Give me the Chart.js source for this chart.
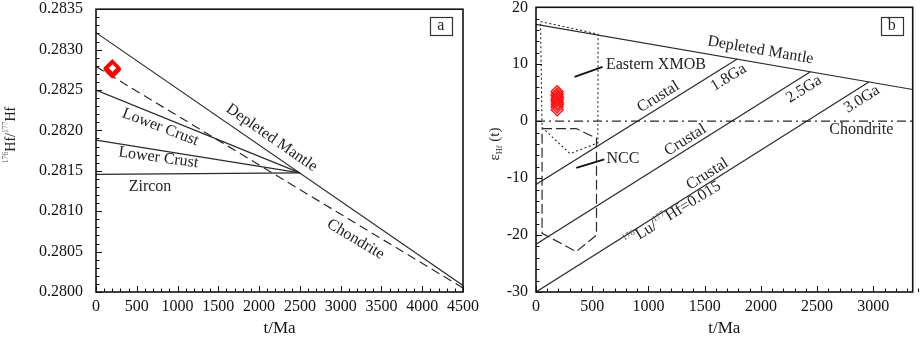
<!DOCTYPE html>
<html><head><meta charset="utf-8">
<script src="https://cdn.jsdelivr.net/npm/chart.js@4.4.0/dist/chart.umd.min.js"></script>
<style>
html,body{margin:0;padding:0;background:#fff;width:920px;height:337px;overflow:hidden;}
#ca{position:absolute;left:0;top:0;}
#cb{position:absolute;left:475px;top:0;}
</style></head><body>
<canvas id="ca" width="485" height="337"></canvas>
<canvas id="cb" width="445" height="337"></canvas>
<script>
// ---------- Panel a data ----------
const aAgeTicks = [0,500,1000,1500,2000,2500,3000,3500,4000,4500];
const aHfTicks = [0.2800,0.2805,0.2810,0.2815,0.2820,0.2825,0.2830,0.2835];
const aDmAge = [0, 4500];
const aDmHf = [0.28321, 0.28008];
const aChurAge = [0, 4500];
const aChurHf = [0.28279, 0.28005];
const aLc1Age = [0, 2500];
const aLc1Hf = [0.28250, 0.281475];
const aLc2Age = [0, 2500];
const aLc2Hf = [0.28188, 0.281475];
const aZirAge = [0, 2500];
const aZirHf = [0.281455, 0.281475];
const aSampleAge = [190, 195, 200, 205, 210, 198, 203];
const aSampleHf = [0.28276, 0.28277, 0.28278, 0.28276, 0.28275, 0.28274, 0.28277];

// ---------- Panel b data ----------
const bAgeTicks = [0,500,1000,1500,2000,2500,3000];
const bEpsTicks = [-30,-20,-10,0,10,20];
const bDmAge = [0, 3350];
const bDmEps = [17.0, 5.56];
const bChurAge = [0, 3350];
const bChurEps = [0, 0];
const bC18Age = [0, 1790];
const bC18Eps = [-11.1, 10.9];
const bC25Age = [0, 2440];
const bC25Eps = [-21.6, 8.7];
const bC30Age = [0, 2960];
const bC30Eps = [-30, 6.9];
const bXmobAge = [40, 552, 550, 303, 54, 40];
const bXmobEps = [17.5, 15.3, -3.8, -5.7, -1.1, 17.5];
const bNccAge = [54, 358, 538, 538, 358, 54, 54];
const bNccEps = [-1.3, -1.3, -3.0, -20.0, -22.9, -19.7, -1.3];
const bXmobLeaderAge = [343, 592];
const bXmobLeaderEps = [7.77, 9.53];
const bNccLeaderAge = [358, 607];
const bNccLeaderEps = [-8.19, -6.72];
const bSampleAge = [188, 190, 186, 192, 189, 187, 191, 190, 188, 189];
const bSampleEps = [5.2, 4.8, 4.5, 4.2, 3.9, 3.6, 3.2, 2.9, 2.5, 2.0];

const FONT = "'Liberation Serif','Times New Roman',serif";
const INK = '#222';
const pts = (xs, ys) => xs.map((x, i) => ({x, y: ys[i]}));
const lineDs = (xs, ys, extra) => Object.assign({
  data: pts(xs, ys), showLine: true, pointRadius: 0, borderColor: '#2a2a2a',
  borderWidth: 1.2, fill: false, order: 2
}, extra || {});

function drawRich(ctx, segs, x, y, rot, align, size) {
  ctx.save();
  ctx.translate(x, y);
  ctx.rotate(rot * Math.PI / 180);
  let total = 0;
  const parts = segs.map(s => {
    const fs = s.s ? size * 0.55 : size;
    ctx.font = fs + 'px ' + FONT;
    const w = ctx.measureText(s.t).width;
    total += w;
    return Object.assign({fs, w}, s);
  });
  let cx = align === 'left' ? 0 : -total / 2;
  ctx.textBaseline = 'middle';
  ctx.textAlign = 'left';
  for (const p of parts) {
    ctx.font = p.fs + 'px ' + FONT;
    ctx.fillStyle = p.s === 'sup' ? '#555' : INK;
    const dy = p.s === 'sup' ? -size * 0.33 : (p.s === 'sub' ? size * 0.28 : 0);
    ctx.fillText(p.t, cx, dy);
    cx += p.w;
  }
  ctx.restore();
  return total;
}

const framePlugin = {
  id: 'frameTicks',
  afterDraw(chart, args, o) {
    const {ctx, chartArea: a} = chart;
    const x = chart.scales.x, y = chart.scales.y;
    ctx.save();
    ctx.strokeStyle = '#111';
    ctx.lineWidth = 1;
    const nx = Math.round((x.max - x.min) / o.xMinor);
    for (let i = 0; i <= nx; i++) {
      const v = x.min + i * o.xMinor;
      const px = Math.round(x.getPixelForValue(v)) + 0.5;
      const len = (i % o.xEvery === 0) ? 6 : 3.5;
      ctx.beginPath(); ctx.moveTo(px, a.bottom); ctx.lineTo(px, a.bottom - len); ctx.stroke();
    }
    const ny = Math.round((y.max - y.min) / o.yMinor);
    for (let i = 0; i <= ny; i++) {
      const v = y.min + i * o.yMinor;
      const py = Math.round(y.getPixelForValue(v)) + 0.5;
      const len = (i % o.yEvery === 0) ? 6 : 3.5;
      ctx.beginPath(); ctx.moveTo(a.left, py); ctx.lineTo(a.left + len, py); ctx.stroke();
    }
    ctx.lineWidth = 1.6;
    ctx.strokeRect(a.left, a.top, a.right - a.left, a.bottom - a.top);
    // y title
    ctx.fillStyle = INK;
    drawRich(ctx, o.yTitle, o.yTitleX, o.yTitleY, -90, 'center', o.yTitleSize);
    ctx.restore();
  }
};

const labelPlugin = {
  id: 'labels',
  afterDatasetsDraw(chart, args, o) {
    const {ctx} = chart;
    const x = chart.scales.x, y = chart.scales.y;
    ctx.save();
    for (const it of o.items) {
      const px = x.getPixelForValue(it.x), py = y.getPixelForValue(it.y);
      const segs = it.segs || [{t: it.text}];
      drawRich(ctx, segs, px, py, it.rot || 0, it.align || 'center', it.size || 16);
      if (it.box) {
        ctx.strokeStyle = '#333'; ctx.lineWidth = 1.2;
        ctx.strokeRect(Math.round(px - 11) + 0.5, Math.round(py - 9) + 0.5, 22, 18);
      }
    }
    ctx.restore();
  }
};

function zeroPad(s) { s.paddingTop = 0; s.paddingBottom = 0; s.paddingLeft = 0; s.paddingRight = 0; }

function makeChart(id, cfg) {
  return new Chart(document.getElementById(id), {
    type: 'scatter',
    data: {datasets: cfg.datasets},
    options: {
      responsive: false, animation: false, devicePixelRatio: 1, events: [],
      layout: {padding: cfg.padding},
      plugins: {legend: {display: false}, tooltip: {enabled: false},
        frameTicks: cfg.frame, labels: {items: cfg.labels}},
      scales: {
        x: {
          type: 'linear', min: cfg.xMin, max: cfg.xMax,
          grid: {display: false, drawTicks: false}, border: {display: false},
          afterBuildTicks: s => { s.ticks = cfg.xTicks.map(v => ({value: v})); },
          afterFit: s => { s.height = 45; zeroPad(s); },
          ticks: {font: {family: FONT, size: 16}, color: '#111', padding: 5, maxRotation: 0, autoSkip: false,
            callback: v => String(v)},
          title: {display: true, text: 't/Ma', font: {family: FONT, size: 17, lineHeight: 1}, color: '#111', padding: {top: 0, bottom: 0}}
        },
        y: {
          type: 'linear', min: cfg.yMin, max: cfg.yMax,
          grid: {display: false, drawTicks: false}, border: {display: false},
          afterBuildTicks: s => { s.ticks = cfg.yTicks.map(v => ({value: v})); },
          afterFit: s => { s.width = cfg.yWidth; zeroPad(s); },
          ticks: {font: {family: FONT, size: 16}, color: '#111', padding: cfg.yPad, autoSkip: false,
            callback: cfg.yFmt},
          title: {display: false}
        }
      }
    },
    plugins: [framePlugin, labelPlugin]
  });
}

// ---------- Chart a ----------
makeChart('ca', {
  padding: {top: 7, right: 22, left: 0, bottom: 0},
  xMin: 0, xMax: 4500, yMin: 0.2800, yMax: 0.2835,
  xTicks: aAgeTicks, yTicks: aHfTicks, yWidth: 96, yPad: 13,
  yFmt: v => Number(v).toFixed(4),
  frame: {xMinor: 100, xEvery: 5, yMinor: 0.0001, yEvery: 5,
    yTitle: [{t: '176', s: 'sup'}, {t: 'Hf/'}, {t: '177', s: 'sup'}, {t: 'Hf'}],
    yTitleX: 11, yTitleY: 135, yTitleSize: 14},
  datasets: [
    {data: pts(aSampleAge, aSampleHf), pointStyle: 'rectRot', pointRadius: 6, borderWidth: 3.2,
      borderColor: '#ff0000', backgroundColor: '#ffffff', order: 0},
    lineDs(aDmAge, aDmHf),
    lineDs(aChurAge, aChurHf, {borderDash: [9, 5]}),
    lineDs(aLc1Age, aLc1Hf),
    lineDs(aLc2Age, aLc2Hf),
    lineDs(aZirAge, aZirHf)
  ],
  labels: [
    {text: 'Depleted Mantle', x: 2154, y: 0.281907, rot: 34.8},
    {text: 'Lower Crust', x: 789, y: 0.282039, rot: 21},
    {text: 'Lower Crust', x: 764, y: 0.281662, rot: 8},
    {text: 'Zircon', x: 662, y: 0.281298, rot: 0},
    {text: 'Chondrite', x: 3184, y: 0.280651, rot: 31},
    {text: 'a', x: 4228, y: 0.283289, rot: 0, box: true}
  ]
});

// ---------- Chart b ----------
makeChart('cb', {
  padding: {top: 7, right: 3, left: 0, bottom: 0},
  xMin: 0, xMax: 3350, yMin: -30, yMax: 20,
  xTicks: bAgeTicks, yTicks: bEpsTicks, yWidth: 61, yPad: 8,
  yFmt: v => String(v),
  frame: {xMinor: 100, xEvery: 5, yMinor: 2, yEvery: 5,
    yTitle: [{t: 'ε'}, {t: 'Hf', s: 'sub'}, {t: ' (t)'}],
    yTitleX: 20.5, yTitleY: 144, yTitleSize: 15},
  datasets: [
    {data: pts(bSampleAge, bSampleEps), pointStyle: 'rectRot', pointRadius: 6, borderWidth: 1.3,
      borderColor: '#ff1010', backgroundColor: 'rgba(255,60,60,0.12)', order: 0},
    lineDs(bDmAge, bDmEps),
    lineDs(bChurAge, bChurEps, {borderDash: [9, 4, 2, 4]}),
    lineDs(bC18Age, bC18Eps),
    lineDs(bC25Age, bC25Eps),
    lineDs(bC30Age, bC30Eps),
    lineDs(bXmobAge, bXmobEps, {borderDash: [2, 2.5], borderWidth: 1.1}),
    lineDs(bNccAge, bNccEps, {borderDash: [10, 4], borderWidth: 1.2}),
    lineDs(bXmobLeaderAge, bXmobLeaderEps, {borderWidth: 1.8, borderColor: '#111'}),
    lineDs(bNccLeaderAge, bNccLeaderEps, {borderWidth: 1.8, borderColor: '#111'})
  ],
  labels: [
    {text: 'Depleted Mantle', x: 1996, y: 12.46, rot: 9.7},
    {text: 'Eastern XMOB', x: 621.6, y: 9.82, rot: 0, align: 'left'},
    {text: 'NCC', x: 627, y: -6.54, rot: 0, align: 'left'},
    {text: 'Crustal', x: 1087.6, y: 4.26, rot: -31.6},
    {text: '1.8Ga', x: 1712, y: 7.67, rot: -31.6},
    {text: 'Crustal', x: 1328, y: -3.33, rot: -31.9},
    {text: '2.5Ga', x: 2383, y: 5.61, rot: -31.9},
    {text: 'Crustal', x: 1524, y: -9.3, rot: -32},
    {segs: [{t: '176', s: 'sup'}, {t: 'Lu/'}, {t: '177', s: 'sup'}, {t: 'Hf=0.015'}], x: 1216, y: -16.3, rot: -32},
    {text: '3.0Ga', x: 2899, y: 3.86, rot: -32},
    {text: 'Chondrite', x: 2893, y: -1.58, rot: 0},
    {text: 'b', x: 3163, y: 16.72, rot: 0, box: true}
  ]
});
</script>
</body></html>
